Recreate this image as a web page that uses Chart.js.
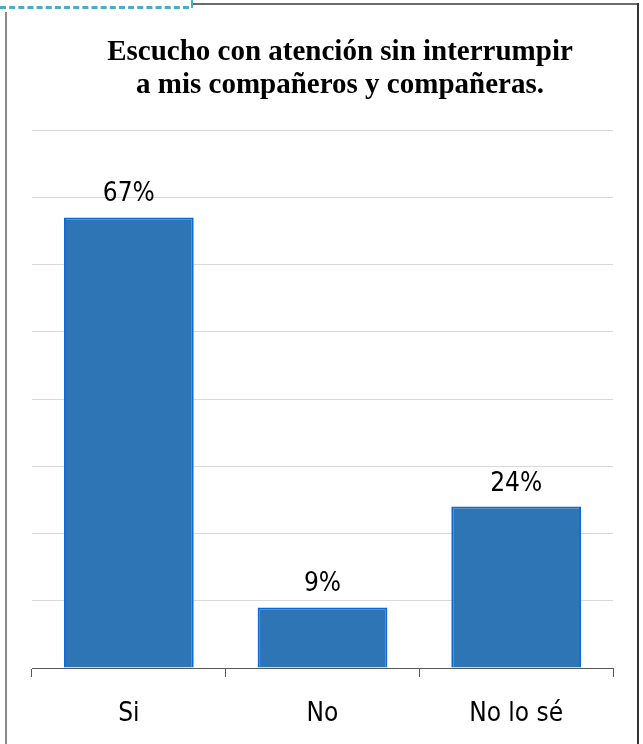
<!DOCTYPE html>
<html>
<head>
<meta charset="utf-8">
<script src="https://cdn.jsdelivr.net/npm/chart.js@4"></script>
<style>
  html, body { margin: 0; padding: 0; background: #fff; }
  #wrap { position: relative; width: 643px; height: 744px; overflow: hidden; }
  .line { position: absolute; }
</style>
</head>
<body>
<div id="wrap">
  <div style="position:absolute;left:0;top:0;width:643px;height:744px;">
    <canvas id="chart"></canvas>
  </div>
  <!-- marco -->
  <div class="line" style="left:0;top:6px;width:189px;border-top:3px dashed #4bacc6;"></div>
  <div class="line" style="left:191px;top:0;height:8px;border-left:2px solid #4bacc6;"></div>
  <div class="line" style="left:193px;top:3px;width:446px;border-top:2px solid #6b6b6b;"></div>
  <div class="line" style="left:637px;top:3px;height:741px;border-left:2px solid #333;"></div>
  <div class="line" style="left:5px;top:12px;height:732px;border-left:2px solid #8a8a8a;"></div>
</div>
<script>
// datos
const categories = ['Si', 'No', 'No lo sé'];
const values = [67, 9, 24];
const titleLines = ['Escucho con atención sin interrumpir', 'a mis compañeros y compañeras.'];

const sansFont = '"DejaVu Sans Condensed", "DejaVu Sans", sans-serif';

// titulo dibujado a mano
const titlePlugin = {
  id: 'titleText',
  afterDraw( chart ) {
    const { ctx } = chart;
    ctx.save();
    ctx.font = 'bold 29px "Liberation Serif", "Times New Roman", serif';
    ctx.fillStyle = '#000';
    ctx.textAlign = 'center';
    ctx.textBaseline = 'alphabetic';
    ctx.fillText( titleLines[0], 340, 60 );
    ctx.fillText( titleLines[1], 340, 93 );
    ctx.restore();
  }
};

// etiquetas de porcentaje sobre cada barra
const labelPlugin = {
  id: 'barLabels',
  afterDatasetsDraw( chart ) {
    const { ctx } = chart;
    const meta = chart.getDatasetMeta(0);
    ctx.save();
    ctx.font = '26px ' + sansFont;
    ctx.fillStyle = '#000';
    ctx.textAlign = 'center';
    ctx.textBaseline = 'alphabetic';
    meta.data.forEach( ( bar, i ) => {
      ctx.fillText( values[i] + '%', bar.x, bar.y - 16 );
    });
    ctx.restore();
  }
};

const canvas = document.querySelector('#chart');

new Chart( canvas, {
  type: 'bar',
  data: {
    labels: categories,
    datasets: [{
      data: values,
      backgroundColor: '#2e75b6',
      borderColor: '#0b6ad6',
      borderWidth: 2,
      barPercentage: 0.67,
      categoryPercentage: 1
    }]
  },
  options: {
    responsive: true,
    maintainAspectRatio: false,
    animation: false,
    layout: {
      padding: { top: 130, left: 32, right: 30, bottom: 0 }
    },
    plugins: {
      legend: { display: false },
      tooltip: { enabled: false },
      title: { display: false }
    },
    scales: {
      x: {
        offset: true,
        afterFit( scale ) {
          scale.height = 76;
        },
        grid: {
          offset: true,
          drawOnChartArea: false,
          drawTicks: true,
          tickLength: 9,
          color: '#595959'
        },
        border: { color: '#595959', width: 1 },
        ticks: {
          color: '#000',
          padding: 22,
          font: { family: sansFont, size: 26 }
        }
      },
      y: {
        min: 0,
        max: 80,
        ticks: { display: false, stepSize: 10 },
        grid: { color: '#d9d9d9', drawTicks: false },
        border: { display: false }
      }
    }
  },
  plugins: [ titlePlugin, labelPlugin ]
});
</script>
</body>
</html>
